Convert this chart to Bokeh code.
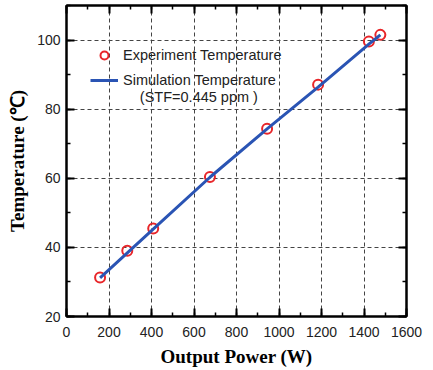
from bokeh.plotting import figure
from bokeh.models import (Range1d, LinearAxis, SingleIntervalTicker, Legend,
                          LegendItem, Label, CustomJSTickFormatter)
from bokeh.embed import file_html
from bokeh.resources import INLINE

# Measured temperatures
power_exp = [158, 286, 408, 675, 944, 1184, 1423, 1477]
temp_exp = [31.3, 39.0, 45.5, 60.4, 74.3, 87.1, 99.6, 101.5]

# Simulated temperature curve (STF = 0.445 ppm)
power_sim = [158, 408, 675, 944, 1184, 1423, 1477]
temp_sim = [31.2, 45.3, 60.3, 74.3, 86.4, 98.8, 101.5]

x_label = "Output Power (W)"
y_label = "Temperature (℃)"
exp_label = "Experiment Temperature"
sim_label = "Simulation Temperature"
sim_note = "(STF=0.445 ppm )"

TICK_FONT = "Liberation Sans"
TITLE_FONT = "Liberation Serif"

p = figure(width=433, height=370,
           x_range=Range1d(0, 1600), y_range=Range1d(20, 110),
           output_backend="svg", toolbar_location=None,
           min_border_left=66, min_border_right=27,
           min_border_top=5, min_border_bottom=54)
p.background_fill_color = "white"
p.border_fill_color = "white"
p.outline_line_color = "black"
p.outline_line_width = 2


def style_axis(ax, show_labels):
    ax.axis_line_width = 2
    ax.axis_line_color = "black"
    ax.major_tick_in = 8
    ax.major_tick_out = 0
    ax.minor_tick_in = 4
    ax.minor_tick_out = 0
    ax.major_tick_line_width = 2
    ax.minor_tick_line_width = 1.5
    ax.major_tick_line_color = "black"
    ax.minor_tick_line_color = "black"
    if show_labels:
        ax.major_label_text_font = TICK_FONT
        ax.major_label_text_font_size = "14px"
        ax.major_label_text_color = "#222222"
        ax.axis_label_text_font = TITLE_FONT
        ax.axis_label_text_font_style = "bold"
        ax.axis_label_text_font_size = "19px"
        ax.axis_label_text_color = "black"
    else:
        # mirrored frame axes: ticks only
        ax.formatter = CustomJSTickFormatter(code="return ''")
        ax.major_label_standoff = 0


p.xaxis.ticker = SingleIntervalTicker(interval=200, num_minor_ticks=2)
p.yaxis.ticker = SingleIntervalTicker(interval=20, num_minor_ticks=2)
p.xaxis.axis_label = x_label
p.yaxis.axis_label = y_label
for ax in p.xaxis + p.yaxis:
    style_axis(ax, True)
p.xaxis.major_label_standoff = 10
p.xaxis.axis_label_standoff = 6
p.yaxis.major_label_standoff = 6
p.yaxis.axis_label_standoff = 6

top_axis = LinearAxis(ticker=SingleIntervalTicker(interval=200, num_minor_ticks=2))
right_axis = LinearAxis(ticker=SingleIntervalTicker(interval=20, num_minor_ticks=2))
style_axis(top_axis, False)
style_axis(right_axis, False)
p.add_layout(top_axis, "above")
p.add_layout(right_axis, "right")

for g in (p.xgrid, p.ygrid):
    g.grid_line_color = "#444444"
    g.grid_line_width = 1
    g.grid_line_dash = "4 3"

r_exp = p.scatter(power_exp, temp_exp, marker="circle", size=10,
                  fill_color=None, line_color="#e8262a", line_width=2)
r_sim = p.line(power_sim, temp_sim, line_color="#2a54b4", line_width=3)

legend = Legend(items=[LegendItem(label=exp_label, renderers=[r_exp]),
                       LegendItem(label=sim_label, renderers=[r_sim])],
                location=(20, 222))
legend.background_fill_alpha = 0
legend.border_line_alpha = 0
legend.padding = 4
legend.margin = 0
legend.spacing = 5
legend.glyph_width = 28
legend.glyph_height = 20
legend.label_height = 20
legend.label_standoff = 5
legend.label_text_font = TICK_FONT
legend.label_text_font_size = "14.5px"
legend.label_text_color = "#222222"
p.add_layout(legend, "center")

p.add_layout(Label(x=623, y=83.6, text=sim_note, text_align="center",
                   text_baseline="middle", text_font=TICK_FONT,
                   text_font_size="14.5px", text_color="#222222"))

open("out.html", "w").write(file_html(p, INLINE))
